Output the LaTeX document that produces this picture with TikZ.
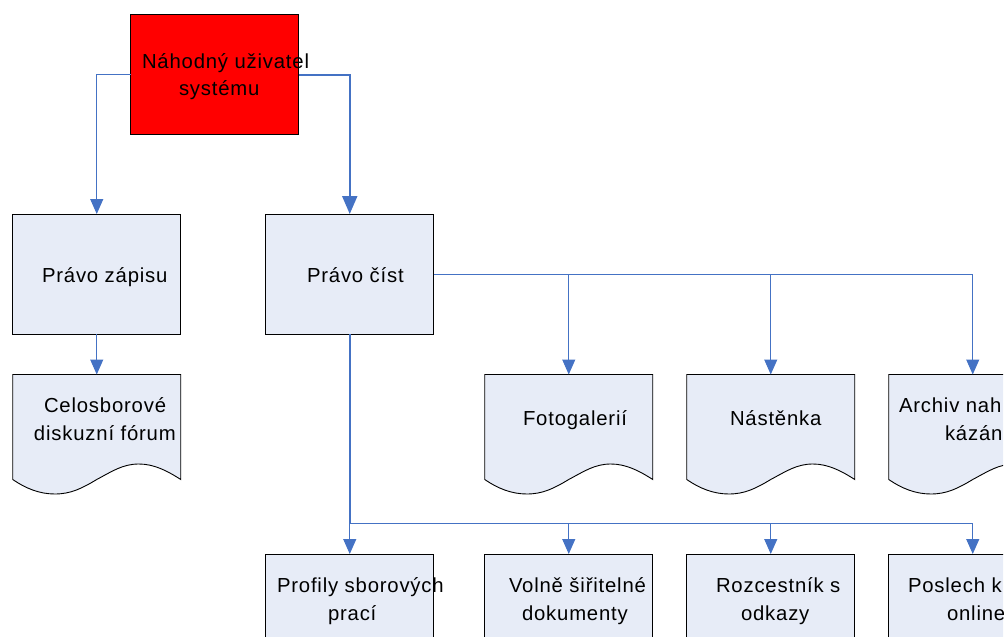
\documentclass[tikz,border=0pt]{standalone}
\usepackage{fontspec}
\setmainfont[LetterSpace=4]{Liberation Sans}
\usetikzlibrary{arrows.meta}
\definecolor{conn}{HTML}{4472C4}
\definecolor{boxfill}{HTML}{E7ECF7}
\tikzset{
  x=1pt,y=-1pt,
  boxshape/.style={draw=black,line width=0.9pt,fill=boxfill,rectangle,minimum width=168pt,minimum height=120pt,inner sep=0pt,outer sep=0pt},
  redbox/.style={boxshape,fill=red},
  docanchor/.style={rectangle,minimum width=168pt,minimum height=120pt,inner sep=0pt,outer sep=0pt},
  docwave/.style={draw=black,line width=0.9pt,fill=boxfill},
  thinconn/.style={draw=conn,line width=1pt,-{Triangle[length=15pt,width=13pt,fill=conn]}},
  thickconn/.style={draw=conn,line width=2pt,-{Triangle[length=18pt,width=15pt,fill=conn]}},
  thickline/.style={draw=conn,line width=2pt},
  lbl/.style={anchor=base west,inner sep=0pt,outer sep=0pt,font=\fontsize{20.3}{24}\selectfont,text=black}
}
\newcommand{\docnode}[3]{%
  \node[docanchor] (#1) at (#2,#3) {};
  \path[docwave,shift={(#2,#3)}] (-84,-60) -- (84,-60) -- (84,45)
    .. controls (70,36) and (57,29.5) .. (42,29.5)
    .. controls (26,29.5) and (15,37) .. (0,45)
    .. controls (-15,54) and (-26,59.5) .. (-42,59.5)
    .. controls (-57,59.5) and (-71,54) .. (-84,45) -- cycle;
}
\begin{document}
\begin{tikzpicture}
\useasboundingbox (0,0) rectangle (1005,637);
\clip (0,0) rectangle (1003,637);
\node[redbox] (user) at (214.75,74.5) {};
\node[boxshape] (write) at (96.75,274) {};
\node[boxshape] (read) at (349.75,274) {};
\node[boxshape] (prof) at (349.75,614) {};
\node[boxshape] (vol) at (568.75,614) {};
\node[boxshape] (roz) at (770.75,614) {};
\node[boxshape] (pos) at (972.75,614) {};
\docnode{forum}{96.75}{434.5}
\docnode{foto}{568.75}{434.5}
\docnode{nast}{770.75}{434.5}
\docnode{arch}{972.75}{434.5}
% connectors
\draw[thinconn] (user.west) -| (write.north);
\draw[thickconn] (user.east) -| (read.north);
\draw[thinconn] (write.south) -- (forum.north);
\draw[thinconn] (read.east) -| (foto.north);
\draw[thinconn] (read.east) -| (nast.north);
\draw[thinconn] (read.east) -| (arch.north);
\coordinate (bus) at (349.75,523.75);
\draw[thickline] (read.south) -- (bus);
\draw[thinconn] (bus) -- (prof.north);
\draw[thinconn] (bus) -| (vol.north);
\draw[thinconn] (bus) -| (roz.north);
\draw[thinconn] (bus) -| (pos.north);
% labels
\node[lbl] (l1) at (142,68) {Náhodný uživatel};
\node[lbl] (l2) at (179,95) {systému};
\node[lbl] (l3) at (42,282) {Právo zápisu};
\node[lbl] (l4) at (307,282) {Právo číst};
\node[lbl] (l5) at (44,412) {Celosborové};
\node[lbl] (l6) at (34,440) {diskuzní fórum};
\node[lbl] (l7) at (523,425) {Fotogalerií};
\node[lbl] (l8) at (730,425) {Nástěnka};
\node[lbl] (l9) at (899,412) {Archiv nah};
\node[lbl] (l10) at (945,440) {kázán};
\node[lbl] (l11) at (277,592) {Profily sborových};
\node[lbl] (l12) at (328,620) {prací};
\node[lbl] (l13) at (509,592) {Volně šiřitelné};
\node[lbl] (l14) at (522,620) {dokumenty};
\node[lbl] (l15) at (716,592) {Rozcestník s};
\node[lbl] (l16) at (741,620) {odkazy};
\node[lbl] (l17) at (908,592) {Poslech k};
\node[lbl] (l18) at (947,620) {online};
\end{tikzpicture}
\end{document}
